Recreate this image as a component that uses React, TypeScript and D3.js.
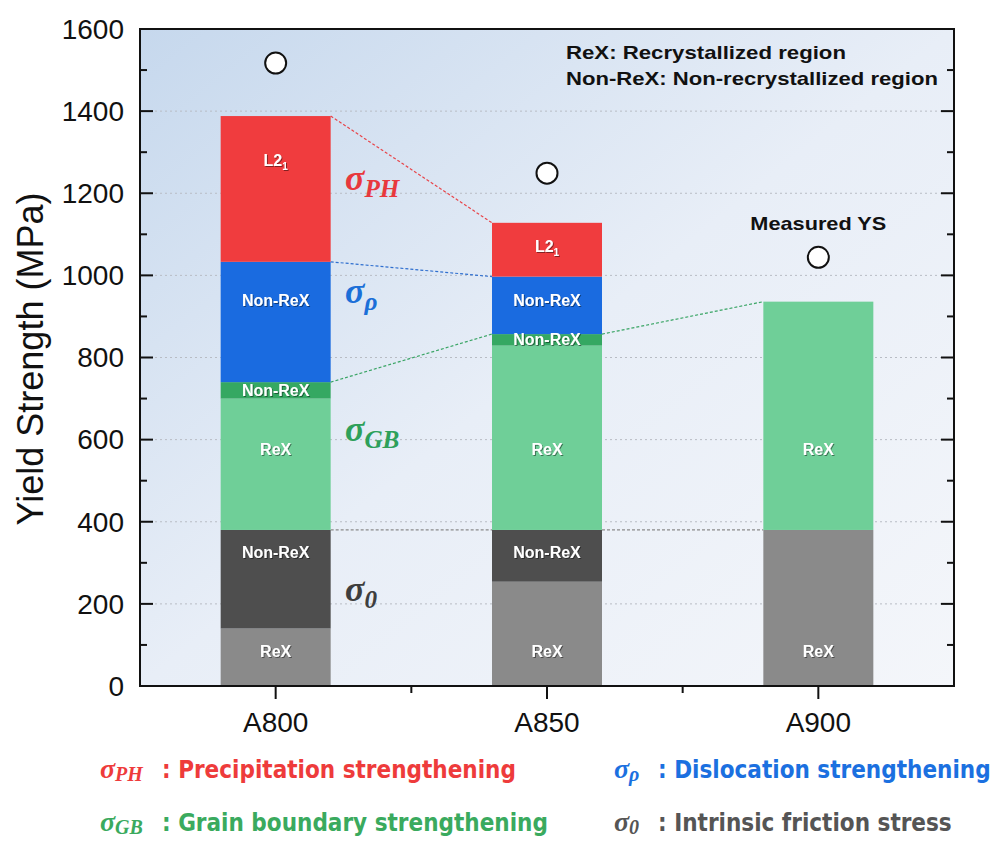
import React from "react";
import * as d3 from "d3";

const categories = ["A800", "A850", "A900"];
const sigma0ReX = [140, 254, 380];
const sigma0NonReX = [240, 126, 0];
const sigmaGBReX = [320, 449, 556];
const sigmaGBNonReX = [40, 28, 0];
const sigmaRhoNonReX = [293, 140, 0];
const sigmaPHL21 = [355, 131, 0];
const measuredYS = [1517, 1249, 1044];
const yTicks = [0, 200, 400, 600, 800, 1000, 1200, 1400, 1600];
const yMinorTicks = [100, 300, 500, 700, 900, 1100, 1300, 1500];

const seriesKeys = ["s0rex", "s0non", "gbrex", "gbnon", "rho", "ph"];
const seriesLabels = ["ReX", "Non-ReX", "ReX", "Non-ReX", "Non-ReX", "L2"];
const seriesColors = ["#8a8a8a", "#4e4e4e", "#6fcf98", "#35a862", "#1a6be0", "#f03c3e"];
// label anchor values (MPa) per series per category
const labelAnchorA800 = [85, 326, 577, 720, 938, 1281];
const labelAnchorA850 = [85, 326, 577, 843, 940, 1070];
const labelAnchorA900 = [85, null, 577, null, null, null];

const W = 1000, H = 841;
const L = 140, R = 954, T = 29, B = 686;

export default function App() {
  const y = d3.scaleLinear().domain([0, 1600]).range([B, T]);
  const x = d3.scaleBand().domain(categories).range([L, R]).paddingInner(0.5946).paddingOuter(0.2973);
  const bw = x.bandwidth();
  const rows = categories.map((c, i) => ({
    cat: c,
    s0rex: sigma0ReX[i], s0non: sigma0NonReX[i], gbrex: sigmaGBReX[i],
    gbnon: sigmaGBNonReX[i], rho: sigmaRhoNonReX[i], ph: sigmaPHL21[i],
  }));
  const stacked = d3.stack<any>().keys(seriesKeys)(rows);
  const anchors = [labelAnchorA800, labelAnchorA850, labelAnchorA900];

  const connectors: { layer: number; from: number; color: string }[] = [
    { layer: 5, from: 0, color: "#e8454a" },
    { layer: 4, from: 0, color: "#2f6fcf" },
    { layer: 3, from: 0, color: "#3aa565" },
    { layer: 3, from: 1, color: "#3aa565" },
    { layer: 1, from: 0, color: "#8a8a8a" },
    { layer: 1, from: 1, color: "#8a8a8a" },
  ];

  const sansFont = "'Liberation Sans', Arial, sans-serif";
  const narrowFont = "'Liberation Sans Narrow', 'DejaVu Sans Condensed', 'Liberation Sans', sans-serif";
  const serifFont = "'Liberation Serif', 'DejaVu Serif', serif";

  const sigmaLabel = (sub: string, color: string, xx: number, yy: number, size: number) => (
    <text x={xx} y={yy} fill={color} fontFamily={serifFont} fontStyle="italic" fontWeight="bold" fontSize={size}>
      σ<tspan fontSize={size * 0.7} dy={size * 0.2}>{sub}</tspan>
    </text>
  );

  const legendItem = (sub: string, text: string, color: string, xx: number, yy: number) => (
    <g>
      <text x={xx} y={yy} fill={color} fontFamily={serifFont} fontStyle="italic" fontWeight="bold" fontSize={28}>
        σ<tspan fontSize={20} dy={3}>{sub}</tspan>
      </text>
      <text x={xx + (sub.length > 1 ? 62 : 44)} y={yy} fill={color} fontFamily={narrowFont} fontWeight="bold" fontSize={24}>
        {": " + text}
      </text>
    </g>
  );

  return (
    <svg width={W} height={H} style={{ position: "absolute", left: 0, top: 0, background: "#fff" }}>
      <defs>
        <linearGradient id="bg" x1="0" y1="0" x2="1" y2="1">
          <stop offset="0" stopColor="#c6d8ed" />
          <stop offset="0.5" stopColor="#e8eef7" />
          <stop offset="1" stopColor="#f4f6fa" />
        </linearGradient>
        <filter id="sh" x="-20%" y="-20%" width="140%" height="160%">
          <feDropShadow dx="1" dy="1" stdDeviation="0.7" floodColor="#000" floodOpacity="0.45" />
        </filter>
      </defs>
      <rect x={L} y={T} width={R - L} height={B - T} fill="url(#bg)" />
      {/* grid */}
      {yTicks.filter(t => t > 0 && t < 1600).map(t => (
        <line key={"g" + t} x1={L} x2={R} y1={y(t)} y2={y(t)} stroke="#b8bcc4" strokeWidth={1} strokeDasharray="2,3" />
      ))}
      {/* connectors */}
      {connectors.map((c, k) => {
        const a = stacked[c.layer][c.from][1];
        const b = stacked[c.layer][c.from + 1][1];
        return (
          <line key={"c" + k} x1={x(categories[c.from])! + bw} x2={x(categories[c.from + 1])!}
            y1={y(a)} y2={y(b)} stroke={c.color} strokeWidth={1.2} strokeDasharray="3,2" />
        );
      })}
      {/* bars */}
      {stacked.map((layer, li) => (
        <g key={"l" + li}>
          {layer.map((d, ci) => d[1] - d[0] > 0 ? (
            <rect key={ci} x={x(categories[ci])} width={bw} y={y(d[1])} height={y(d[0]) - y(d[1])} fill={seriesColors[li]} />
          ) : null)}
        </g>
      ))}
      {/* in-bar labels */}
      {stacked.map((layer, li) => layer.map((d, ci) => {
        const v = anchors[ci][li];
        if (v == null || d[1] - d[0] <= 0) return null;
        const cx = x(categories[ci])! + bw / 2;
        return (
          <text key={"t" + li + ci} x={cx} y={y(v)} dy="0.35em" textAnchor="middle" fill="#fff"
            fontFamily={sansFont} fontWeight="bold" fontSize={16} filter="url(#sh)">
            {seriesLabels[li]}
            {seriesLabels[li] === "L2" ? <tspan fontSize={10} dy={4}>1</tspan> : null}
          </text>
        );
      }))}
      {/* measured YS */}
      {measuredYS.map((v, i) => (
        <circle key={"m" + i} cx={x(categories[i])! + bw / 2} cy={y(v)} r={10.5} fill="#fff" stroke="#111" strokeWidth={2} />
      ))}
      <text x={x("A900")! + bw / 2} y={230} textAnchor="middle" fontFamily={sansFont} fontWeight="bold" fontSize={19} fill="#111"
        textLength={136} lengthAdjust="spacingAndGlyphs">Measured YS</text>
      <text x={566} y={59} fontFamily={sansFont} fontWeight="bold" fontSize={19} fill="#111"
        textLength={280} lengthAdjust="spacingAndGlyphs">ReX: Recrystallized region</text>
      <text x={566} y={85} fontFamily={sansFont} fontWeight="bold" fontSize={19} fill="#111"
        textLength={372} lengthAdjust="spacingAndGlyphs">Non-ReX: Non-recrystallized region</text>
      {/* sigma annotations */}
      {sigmaLabel("PH", "#e8383d", 345, 190, 36)}
      {sigmaLabel("ρ", "#1b6fd8", 345, 303, 36)}
      {sigmaLabel("GB", "#2ea05a", 345, 441, 36)}
      {sigmaLabel("0", "#3e3e3e", 345, 601, 36)}
      {/* frame */}
      <rect x={L} y={T} width={R - L} height={B - T} fill="none" stroke="#111" strokeWidth={2} />
      {/* y ticks */}
      {yTicks.map(t => (
        <g key={"yt" + t}>
          <line x1={L} x2={L + 13} y1={y(t)} y2={y(t)} stroke="#111" strokeWidth={2} />
          <line x1={R} x2={R - 13} y1={y(t)} y2={y(t)} stroke="#111" strokeWidth={2} />
          <text x={124} y={y(t)} dy="0.35em" textAnchor="end" fontFamily={sansFont} fontSize={28} fill="#111">{t}</text>
        </g>
      ))}
      {yMinorTicks.map(t => (
        <g key={"ym" + t}>
          <line x1={L} x2={L + 7} y1={y(t)} y2={y(t)} stroke="#111" strokeWidth={2} />
          <line x1={R} x2={R - 7} y1={y(t)} y2={y(t)} stroke="#111" strokeWidth={2} />
        </g>
      ))}
      {/* x ticks */}
      {categories.map((c, i) => (
        <g key={"xt" + c}>
          <line x1={x(c)! + bw / 2} x2={x(c)! + bw / 2} y1={B} y2={B + 13} stroke="#111" strokeWidth={2} />
          <text x={x(c)! + bw / 2} y={732} textAnchor="middle" fontFamily={sansFont} fontSize={28} fill="#111">{c}</text>
          {i > 0 ? <line x1={x(c)! - x.step() * x.paddingInner() / 2} x2={x(c)! - x.step() * x.paddingInner() / 2} y1={B} y2={B + 7} stroke="#111" strokeWidth={2} /> : null}
        </g>
      ))}
      <text transform="translate(43,359) rotate(-90)" textAnchor="middle" fontFamily={sansFont} fontSize={36} fill="#111">Yield Strength (MPa)</text>
      {/* legend */}
      {legendItem("PH", "Precipitation strengthening", "#ee3b3b", 100, 778)}
      {legendItem("ρ", "Dislocation strengthening", "#1b70e0", 614, 778)}
      {legendItem("GB", "Grain boundary strengthening", "#3aaa5e", 100, 831)}
      {legendItem("0", "Intrinsic friction stress", "#555555", 614, 831)}
    </svg>
  );
}
